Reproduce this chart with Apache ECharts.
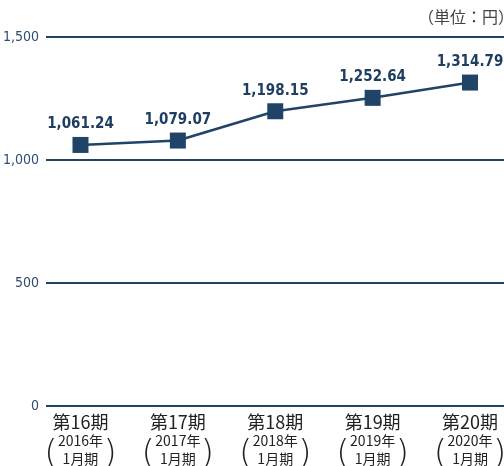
<!DOCTYPE html>
<html>
<head>
<meta charset="utf-8">
<script src="https://cdn.jsdelivr.net/npm/echarts@6/dist/echarts.min.js"></script>
<style>
html,body{margin:0;padding:0;background:#fff;}
#main{width:504px;height:466px;}
</style>
</head>
<body>
<div id="main"></div>
<script>
var periods = ['第16期', '第17期', '第18期', '第19期', '第20期'];
var years = ['2016年', '2017年', '2018年', '2019年', '2020年'];
var months = ['1月期', '1月期', '1月期', '1月期', '1月期'];
var values = [1061.24, 1079.07, 1198.15, 1252.64, 1314.79];
var yTicks = [0, 500, 1000, 1500];
var unitText = '（単位：円）';

var navy = '#1f4468';
var narrow = "'DejaVu Sans Condensed', 'Liberation Sans Narrow', sans-serif";
var cjk = "'Noto Sans CJK JP', 'Noto Sans', sans-serif";

function fmt(v, d) {
  return v.toLocaleString('en-US', {minimumFractionDigits: d, maximumFractionDigits: d});
}

var chart = echarts.init(document.getElementById('main'), null, {renderer: 'canvas'});
chart.setOption({
  animation: false,
  backgroundColor: '#ffffff',
  graphic: [
    {
      type: 'text', right: -10, top: 9,
      style: {text: unitText, font: "16px 'Noto Sans CJK JP', 'Noto Sans', sans-serif", fill: '#444444'}
    }
  ],
  grid: [
    {left: 46, right: 0, top: 37, bottom: 60, outerBoundsMode: 'none', containLabel: false},
    {left: 31.8, right: -14.7, top: 37, bottom: 60, outerBoundsMode: 'none', containLabel: false}
  ],
  xAxis: [
    {
      type: 'category', gridIndex: 0, data: periods, show: false
    },
    {
      type: 'category', gridIndex: 1, data: periods, position: 'bottom',
      axisLine: {show: false}, axisTick: {show: false},
      axisLabel: {
        interval: 0, margin: 7,
        formatter: function (v, i) {
          return '{a|' + periods[i] + '}\n{b|' + years[i] + '}\n{b|' + months[i] + '}';
        },
        rich: {
          a: {fontFamily: cjk, fontSize: 18, lineHeight: 19, color: '#222222'},
          b: {fontFamily: cjk, fontSize: 14, lineHeight: 18, color: '#222222'}
        }
      }
    },
    {
      type: 'category', gridIndex: 1, data: periods, position: 'bottom',
      axisLine: {show: false}, axisTick: {show: false},
      axisLabel: {
        interval: 0, margin: 30,
        formatter: function () { return '{p|(}{s|}{p|)}'; },
        rich: {
          p: {fontFamily: "'DejaVu Sans', sans-serif", fontSize: 34, lineHeight: 38, color: '#222222', fontWeight: 'lighter'},
          s: {width: 46}
        }
      }
    }
  ],
  yAxis: [
    {
      type: 'value', gridIndex: 0, min: 0, max: 1500, interval: 500,
      axisLine: {show: false}, axisTick: {show: false},
      splitLine: {show: true, lineStyle: {color: navy, width: 2}},
      axisLabel: {
        margin: 7,
        fontFamily: narrow, fontSize: 14, color: '#2e4d70',
        formatter: function (v) { return fmt(v, 0); }
      }
    },
    {
      type: 'value', gridIndex: 1, min: 0, max: 1500, interval: 500, show: false,
      splitLine: {show: false}
    }
  ],
  series: [
    {
      type: 'line', xAxisIndex: 1, yAxisIndex: 1,
      data: values,
      symbol: 'rect', symbolSize: 16,
      lineStyle: {color: navy, width: 2.5},
      itemStyle: {color: navy},
      label: {
        show: true, position: 'top', distance: 5,
        fontFamily: narrow, fontWeight: 'bold', fontSize: 15, color: '#1f3f62',
        formatter: function (p) { return fmt(p.value, 2); }
      }
    }
  ]
});
</script>
</body>
</html>
